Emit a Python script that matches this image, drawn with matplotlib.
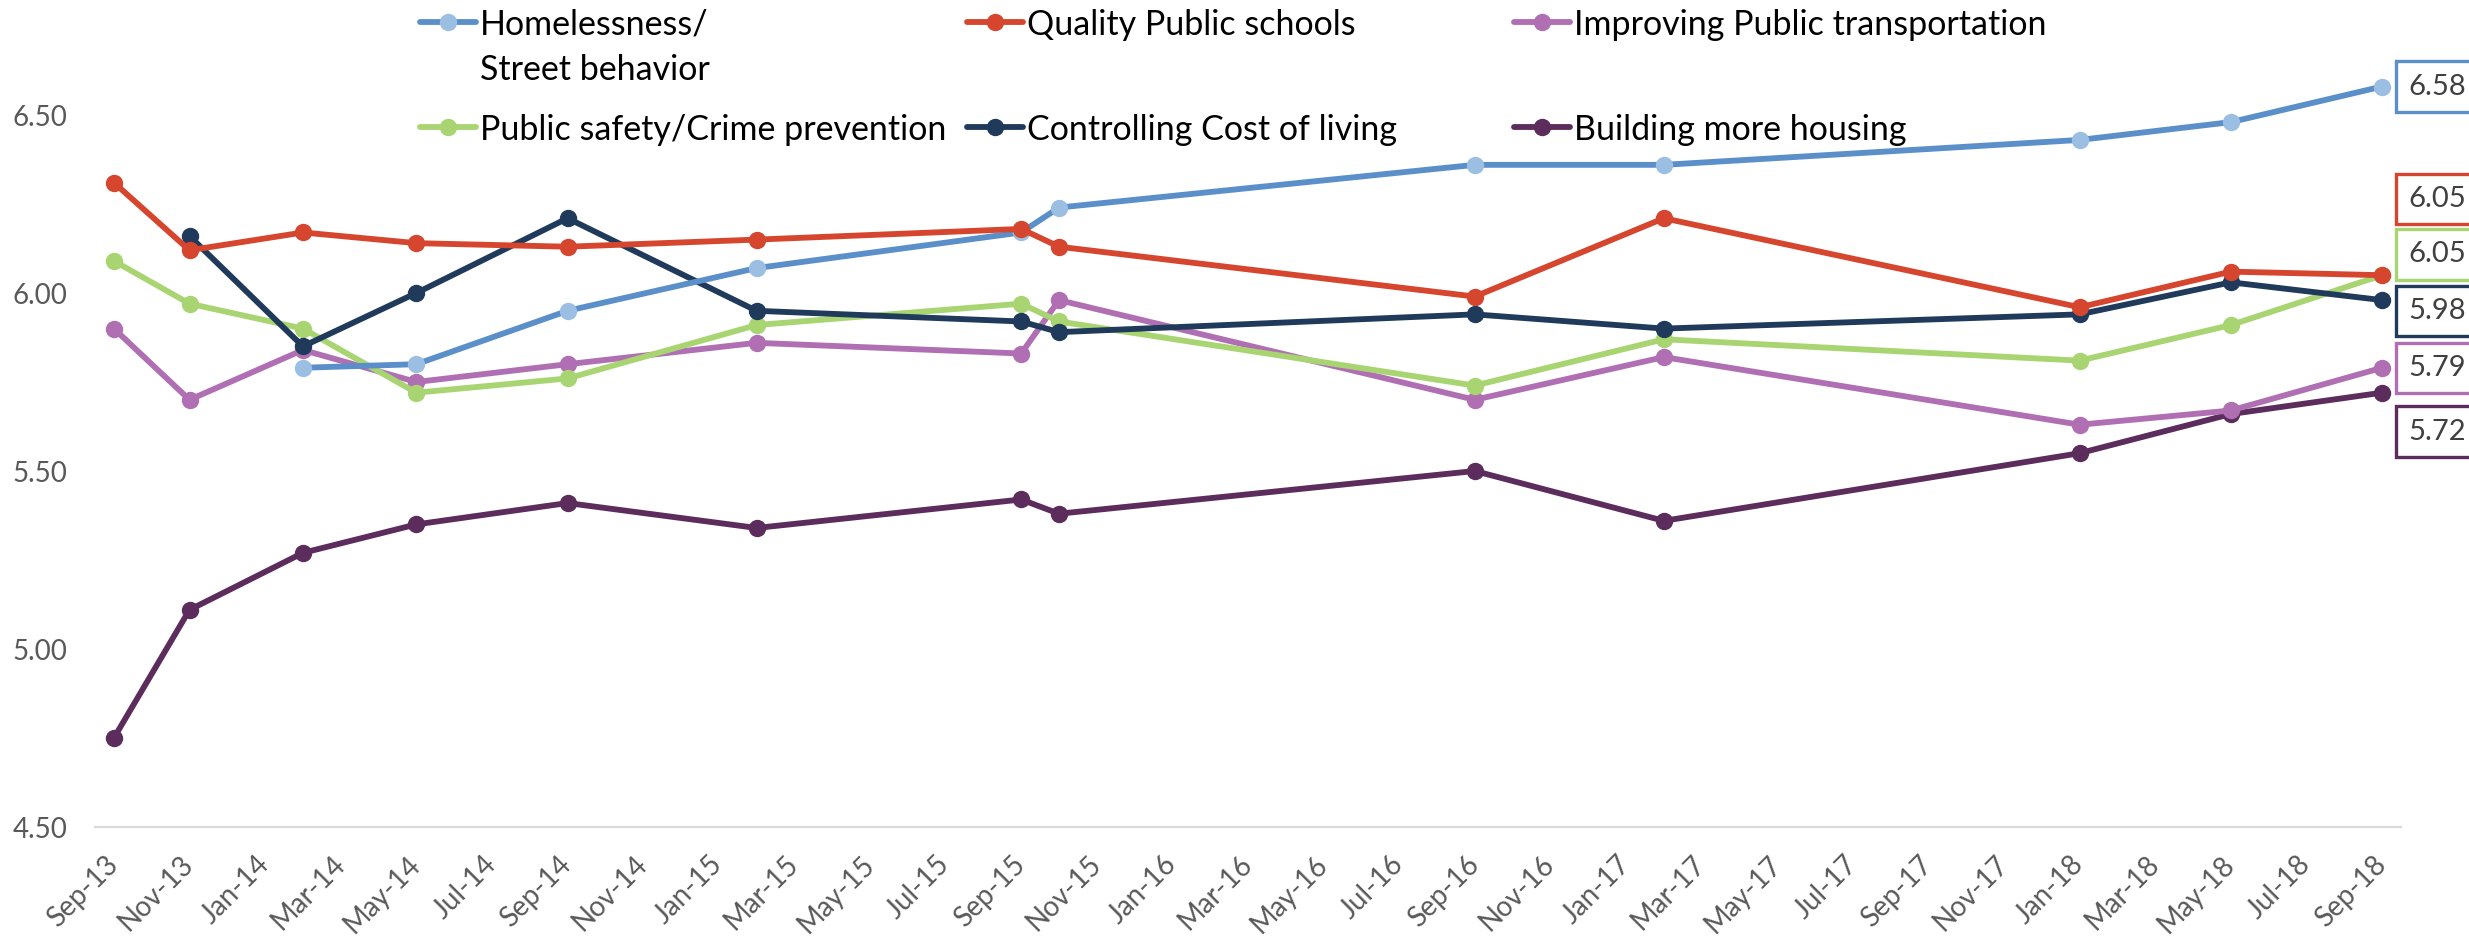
import matplotlib
matplotlib.use("Agg")
import matplotlib.pyplot as plt
from matplotlib.lines import Line2D
import numpy as np
import pandas as pd

plt.rcParams["font.family"] = ["Lato", "DejaVu Sans"]

# survey waves
waves = ["Sep-13", "Nov-13", "Feb-14", "May-14", "Sep-14", "Feb-15", "Sep-15",
         "Oct-15", "Sep-16", "Feb-17", "Jan-18", "May-18", "Sep-18"]

homeless = [np.nan, np.nan, 5.79, 5.80, 5.95, 6.07, 6.17, 6.24, 6.36, 6.36, 6.43, 6.48, 6.58]
schools = [6.31, 6.12, 6.17, 6.14, 6.13, 6.15, 6.18, 6.13, 5.99, 6.21, 5.96, 6.06, 6.05]
transport = [5.90, 5.70, 5.84, 5.75, 5.80, 5.86, 5.83, 5.98, 5.70, 5.82, 5.63, 5.67, 5.79]
safety = [6.09, 5.97, 5.90, 5.72, 5.76, 5.91, 5.97, 5.92, 5.74, 5.87, 5.81, 5.91, 6.05]
cost = [np.nan, 6.16, 5.85, 6.00, 6.21, 5.95, 5.92, 5.89, 5.94, 5.90, 5.94, 6.03, 5.98]
housing = [4.75, 5.11, 5.27, 5.35, 5.41, 5.34, 5.42, 5.38, 5.50, 5.36, 5.55, 5.66, 5.72]

tick_labels = ["Sep-13", "Nov-13", "Jan-14", "Mar-14", "May-14", "Jul-14", "Sep-14",
               "Nov-14", "Jan-15", "Mar-15", "May-15", "Jul-15", "Sep-15", "Nov-15",
               "Jan-16", "Mar-16", "May-16", "Jul-16", "Sep-16", "Nov-16", "Jan-17",
               "Mar-17", "May-17", "Jul-17", "Sep-17", "Nov-17", "Jan-18", "Mar-18",
               "May-18", "Jul-18", "Sep-18"]
y_ticks = [4.5, 5.0, 5.5, 6.0, 6.5]

# month index from the first wave (Excel date axis with month base unit)
def month_index(labels):
    d = pd.to_datetime(labels, format="%b-%y")
    return np.array((d.year - 2013) * 12 + d.month - 9)

x = month_index(waves)
tick_x = month_index(tick_labels)

# name, values, line colour, marker colour, label offset (pt)
series = [
    ("Homelessness/\nStreet behavior", homeless, "#5B8FC9", "#9BBFE3", 0),
    ("Quality Public schools", schools, "#D6452E", "#D6452E", 55),
    ("Improving Public transportation", transport, "#B06FB3", "#B06FB3", 0),
    ("Public safety/Crime prevention", safety, "#A8D572", "#A8D572", 15),
    ("Controlling Cost of living", cost, "#1F3A5A", "#1F3A5A", -8),
    ("Building more housing", housing, "#5B2C5C", "#5B2C5C", -28),
]
draw_order = [5, 2, 3, 4, 0, 1]

LW = 4.2
MS = 11.5

fig = plt.figure(figsize=(24.69, 9.40), dpi=100)
ax = fig.add_axes([95 / 2469, 1 - 827 / 940, 2306 / 2469, 801 / 940])

for i in draw_order:
    name, vals, lc, mc, dy = series[i]
    v = np.array(vals, dtype=float)
    ok = ~np.isnan(v)
    ax.plot(x[ok], v[ok], color=lc, lw=LW, marker="o", markersize=MS,
            markerfacecolor=mc, markeredgecolor=mc, solid_capstyle="round", zorder=3)

for name, vals, lc, mc, dy in series:
    ax.annotate(f"{vals[-1]:.2f}", xy=(x[-1], vals[-1]), xytext=(19, dy),
                textcoords="offset points", ha="left", va="center",
                fontsize=21, color="#404040", annotation_clip=False,
                bbox=dict(boxstyle="square,pad=0.42", fc="white", ec=lc, lw=2.4))

ax.set_xlim(-0.5, 60.5)
ax.set_ylim(4.5, 6.75)
ax.set_yticks(y_ticks)
ax.set_yticklabels([f"{t:.2f}" for t in y_ticks])
ax.set_xticks(tick_x)
ax.set_xticklabels(tick_labels, rotation=45, ha="right", va="center",
                   rotation_mode="anchor")
ax.tick_params(axis="both", length=0, labelsize=20, labelcolor="#595959")
ax.tick_params(axis="y", pad=20)
ax.tick_params(axis="x", pad=24)
for s in ["top", "right", "left"]:
    ax.spines[s].set_visible(False)
ax.spines["bottom"].set_color("#D9D9D9")
ax.spines["bottom"].set_linewidth(1.6)

# legend laid out like the Excel one: 3 equal columns, 2 rows
col_x = [420, 967, 1514]
row_y = [22, 127]
W, H = 2469, 940
for k, (name, vals, lc, mc, dy) in enumerate(series):
    c, r = k % 3, k // 3
    x0 = col_x[c] / W
    x1 = (col_x[c] + 56) / W
    yy = 1 - row_y[r] / H
    fig.add_artist(Line2D([x0, (x0 + x1) / 2, x1], [yy, yy, yy], transform=fig.transFigure,
                          color=lc, lw=LW, marker="o", markersize=MS, markevery=[1],
                          markerfacecolor=mc, markeredgecolor=mc, solid_capstyle="round"))
    for j, line in enumerate(name.split("\n")):
        fig.text((col_x[c] + 60) / W, 1 - (row_y[r] + 45 * j) / H, line,
                 fontsize=24.5, color="black", ha="left", va="center_baseline")

fig.savefig("out.png", dpi=100)
